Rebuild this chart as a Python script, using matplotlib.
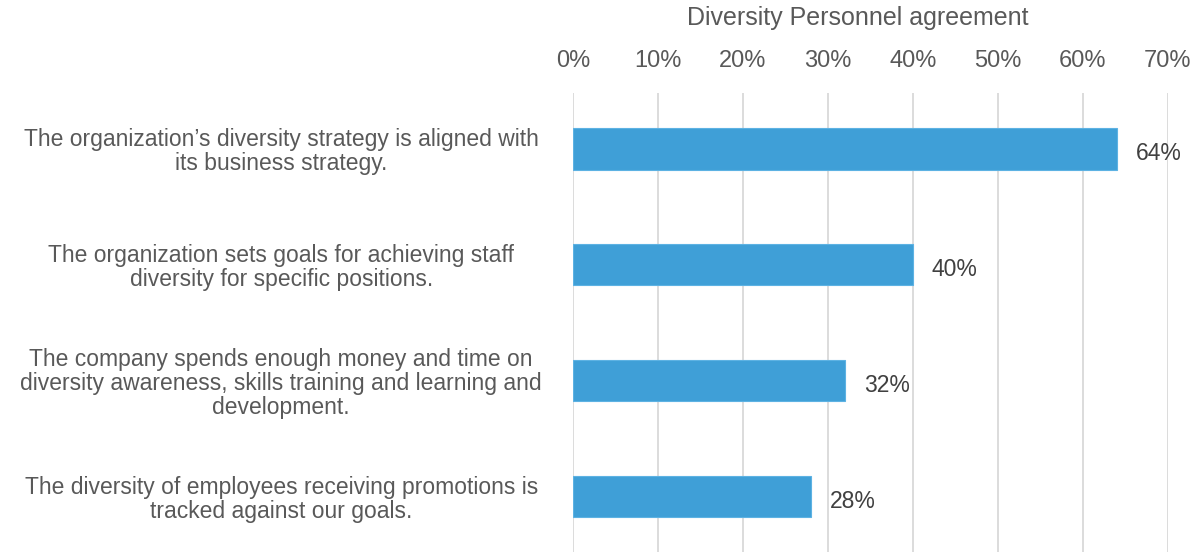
import matplotlib
matplotlib.use("Agg")
from matplotlib import pyplot as plt
from matplotlib.ticker import FuncFormatter

# statements and share of diversity personnel agreeing
statements = [
    "The organization\u2019s diversity strategy is aligned with\nits business strategy.",
    "The organization sets goals for achieving staff\ndiversity for specific positions.",
    "The company spends enough money and time on\ndiversity awareness, skills training and learning and\ndevelopment.",
    "The diversity of employees receiving promotions is\ntracked against our goals.",
]
agreement = [64, 40, 32, 28]
x_ticks = [0, 10, 20, 30, 40, 50, 60, 70]

plt.rcParams['font.family'] = ['Liberation Sans', 'DejaVu Sans']
text_col = '#595959'
bar_col = '#3F9FD7'

fig = plt.figure(figsize=(12.01, 5.52), dpi=100)
ax = fig.add_axes([0.477, 0.0, 0.4955, 0.8315])

pos = list(range(len(statements)))
ax.barh(pos, agreement, height=0.36, color=bar_col, edgecolor='#5DB2E3', linewidth=0.8, zorder=3)

for p, v in zip(pos, agreement):
    ax.text(v + 2.2, p + 0.04, f"{v}%", va='center', ha='left', fontsize=16.5, color='#404040')

ax.set_xlim(0, 70)
ax.set_ylim(3.48, -0.48)
ax.set_xticks(x_ticks)
ax.xaxis.set_major_formatter(FuncFormatter(lambda v, _: f"{int(v)}%"))
ax.xaxis.tick_top()
ax.tick_params(axis='x', length=0, pad=15, labelsize=17, labelcolor=text_col)
ax.grid(axis='x', color='#D9D9D9', linewidth=1.3, zorder=0)

ax.set_yticks(pos)
ax.set_yticklabels(statements, fontsize=16.5, color=text_col, ha='center', linespacing=1.05)
ax.tick_params(axis='y', length=0, pad=210)

for s in ax.spines.values():
    s.set_visible(False)

fig.text(0.714, 0.967, "Diversity Personnel agreement", ha='center', va='center', fontsize=18, color=text_col)

fig.savefig("out.png", dpi=100)
